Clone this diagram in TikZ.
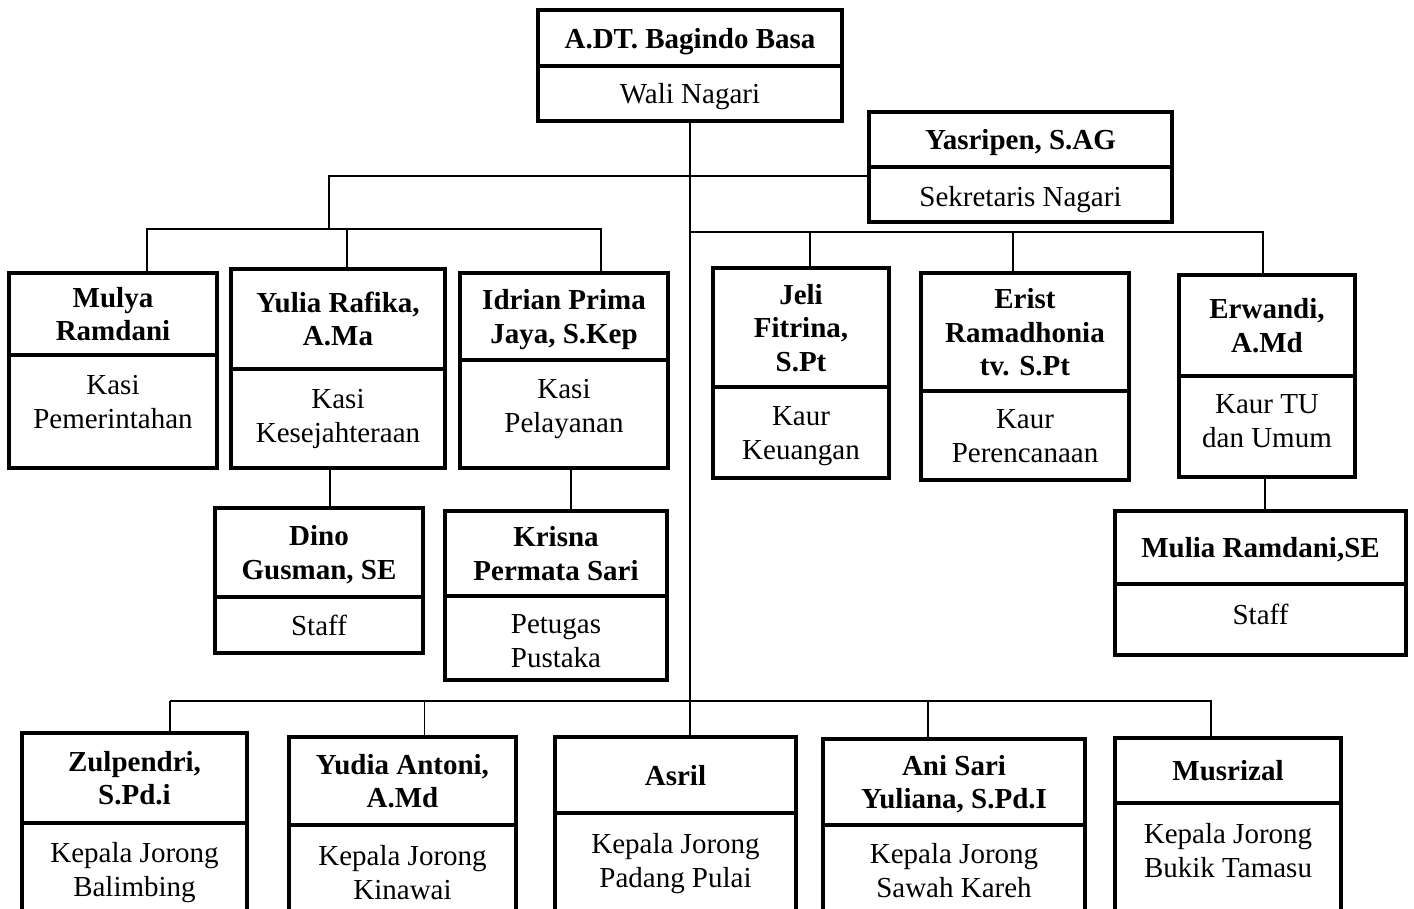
\documentclass[tikz,border=0pt]{standalone}
\usepackage{fontspec}
\setmainfont{Liberation Serif}
\usetikzlibrary{positioning}

\newcommand{\namefont}{\fontsize{29}{33.5}\selectfont\bfseries}
\newcommand{\rolefont}{\fontsize{29}{33.5}\selectfont}

\begin{document}
\begin{tikzpicture}[x=1pt, y=-1pt,
    namebox/.style={draw, line width=3.5pt, font=\namefont, align=center,
                    inner sep=0pt, outer sep=0pt, text depth=0pt, anchor=north west},
    rolebox/.style 2 args={draw, line width=3.5pt, font=\rolefont, align=center,
                    inner sep=0pt, outer sep=0pt, minimum height=0pt,
                    text height=#1, text depth=#2},
    link/.style={line width=1.7pt}]

    \path[use as bounding box, fill=white] (0,0) rectangle (1414,909);
    \clip (0,0) rectangle (1414,909);

    % wali nagari and sekretaris
    \node[namebox, minimum width=304, minimum height=56] (wali) at (538,10) {A.DT. Bagindo Basa};
    \node[rolebox={38pt}{17pt}, minimum width=304, below=0pt of wali] (walir) {Wali Nagari};
    \node[namebox, minimum width=303, minimum height=55] (sekr) at (869,112) {Yasripen, S.AG};
    \node[rolebox={40pt}{15pt}, minimum width=303, below=0pt of sekr] (sekrr) {Sekretaris Nagari};

    % kasi
    \node[namebox, minimum width=208, minimum height=82]  (pem) at (9,273)   {Mulya\\Ramdani};
    \node[rolebox={73pt}{40pt}, minimum width=208, below=0pt of pem] (pemr) {Kasi\\Pemerintahan};
    \node[namebox, minimum width=214, minimum height=100] (kes) at (231,269) {Yulia Rafika,\\A.Ma};
    \node[rolebox={73pt}{26pt}, minimum width=214, below=0pt of kes] (kesr) {Kasi\\Kesejahteraan};
    \node[namebox, minimum width=208, minimum height=87]  (pel) at (460,273) {Idrian Prima\\Jaya, S.Kep};
    \node[rolebox={72pt}{36pt}, minimum width=208, below=0pt of pel] (pelr) {Kasi\\Pelayanan};

    % kaur
    \node[namebox, minimum width=176, minimum height=119] (keu) at (713,268)  {Jeli\\Fitrina,\\S.Pt};
    \node[rolebox={72pt}{19pt}, minimum width=176, below=0pt of keu] (keur) {Kaur\\Keuangan};
    \node[namebox, minimum width=208, minimum height=118] (ren) at (921,273)  {Erist\\Ramadhonia\\tv. S.Pt};
    \node[rolebox={71pt}{18pt}, minimum width=208, below=0pt of ren] (renr) {Kaur\\Perencanaan};
    \node[namebox, minimum width=176, minimum height=101] (tu)  at (1179,275) {Erwandi,\\A.Md};
    \node[rolebox={71pt}{30pt}, minimum width=176, below=0pt of tu] (tur) {Kaur TU\\dan Umum};

    % staff
    \node[namebox, minimum width=208, minimum height=89] (kesstaf) at (215,508)  {Dino\\Gusman, SE};
    \node[rolebox={38pt}{18pt}, minimum width=208, below=0pt of kesstaf] (kesstafr) {Staff};
    \node[namebox, minimum width=222, minimum height=85] (pus)     at (445,511)  {Krisna\\Permata Sari};
    \node[rolebox={71pt}{13pt}, minimum width=222, below=0pt of pus] (pusr) {Petugas\\Pustaka};
    \node[namebox, minimum width=291, minimum height=73] (tustaf)  at (1115,511) {Mulia Ramdani,SE};
    \node[rolebox={40pt}{31pt}, minimum width=291, below=0pt of tustaf] (tustafr) {Staff};

    % kepala jorong
    \node[namebox, minimum width=225, minimum height=90] (bal) at (22,733)   {Zulpendri,\\S.Pd.i};
    \node[rolebox={73pt}{130pt}, minimum width=225, below=0pt of bal] (balr) {Kepala Jorong\\Balimbing};
    \node[namebox, minimum width=227, minimum height=88] (kin) at (289,737)  {Yudia Antoni,\\A.Md};
    \node[rolebox={74pt}{130pt}, minimum width=227, below=0pt of kin] (kinr) {Kepala Jorong\\Kinawai};
    \node[namebox, minimum width=241, minimum height=76] (pad) at (555,737)  {Asril};
    \node[rolebox={74pt}{130pt}, minimum width=241, below=0pt of pad] (padr) {Kepala Jorong\\Padang Pulai};
    \node[namebox, minimum width=262, minimum height=86] (saw) at (823,739)  {Ani Sari\\Yuliana, S.Pd.I};
    \node[rolebox={72pt}{130pt}, minimum width=262, below=0pt of saw] (sawr) {Kepala Jorong\\Sawah Kareh};
    \node[namebox, minimum width=226, minimum height=65] (buk) at (1115,738) {Musrizal};
    \node[rolebox={74pt}{130pt}, minimum width=226, below=0pt of buk] (bukr) {Kepala Jorong\\Bukik Tamasu};

    % bus points
    \coordinate (topbus)   at (329,176);
    \coordinate (leftbus)  at (329,229);
    \coordinate (rightbus) at (1263,232);
    \coordinate (lowbus)   at (170,701);

    % connectors
    \draw[link] (walir.south) -- (walir.south |- pad.north);
    \draw[link] (sekrr.west |- topbus) -- (topbus) -- (leftbus);
    \draw[link] ([xshift=34pt]pem.north) |- (leftbus);
    \draw[link] ([xshift=37pt]pel.north) |- (leftbus);
    \draw[link] ([xshift=9pt]kes.north) -- ([xshift=9pt]kes.north |- leftbus);

    \draw[link] (walir.south |- rightbus) -- (rightbus) -- (rightbus |- tu.north);
    \draw[link] ([xshift=9pt]keu.north) -- ([xshift=9pt]keu.north |- rightbus);
    \draw[link] ([xshift=-12pt]ren.north) -- ([xshift=-12pt]ren.north |- rightbus);

    \draw[link] ([xshift=-8pt]kesr.south) -- ([xshift=-8pt]kesr.south |- kesstaf.north);
    \draw[link] ([xshift=7pt]pelr.south) -- ([xshift=7pt]pelr.south |- pus.north);
    \draw[link] ([xshift=-2pt]tur.south) -- ([xshift=-2pt]tur.south |- tustaf.north);

    \draw[link] (lowbus) -- (lowbus |- bal.north);
    \draw[link] (lowbus) -| ([xshift=-17pt]buk.north);
    \draw[link] ([xshift=22pt]kin.north) -- ([xshift=22pt]kin.north |- lowbus);
    \draw[link] ([xshift=-26pt]saw.north) -- ([xshift=-26pt]saw.north |- lowbus);

\end{tikzpicture}
\end{document}
